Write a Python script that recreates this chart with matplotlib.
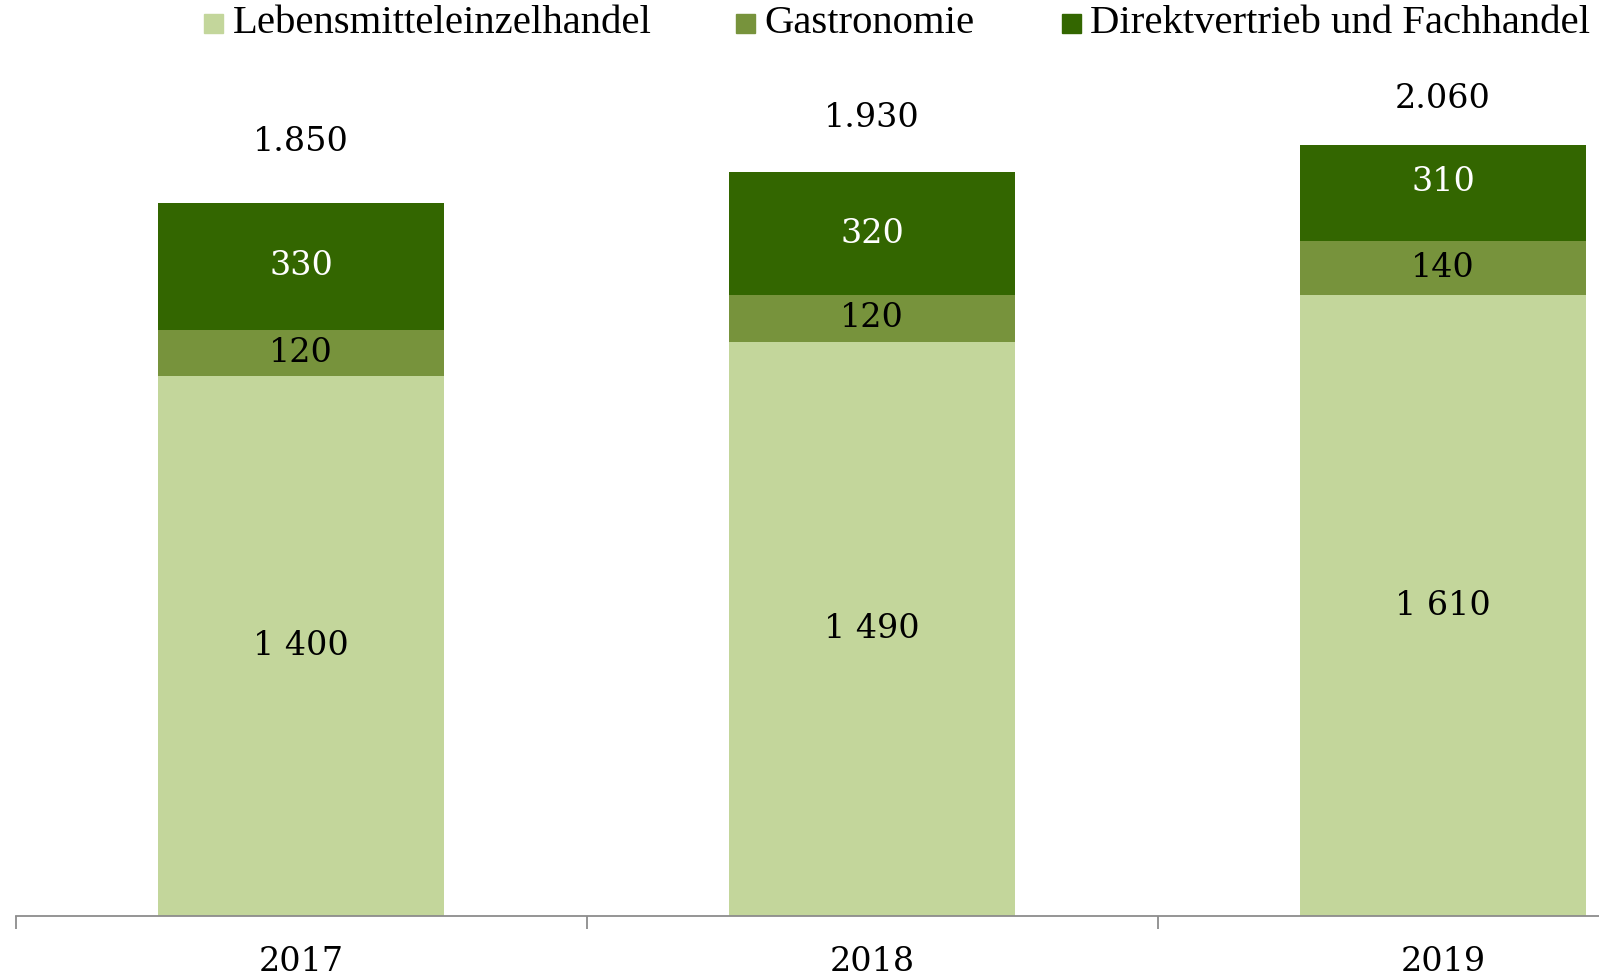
import numpy as np
import matplotlib.pyplot as plt
from matplotlib.patches import Rectangle

years = ['2017', '2018', '2019']
series_names = ['Lebensmitteleinzelhandel', 'Gastronomie', 'Direktvertrieb und Fachhandel']
lebensmittel = [1400, 1490, 1610]
gastro = [120, 120, 140]
direkt = [330, 320, 310]
totals = [1850, 1930, 2060]
total_labels = ['1.850', '1.930', '2.060']

colors = ['#C3D69B', '#77933C', '#336600']
text_colors = ['black', 'black', 'white']

W, H = 1599, 977
fig = plt.figure(figsize=(W / 100, H / 100), dpi=100)
ax = fig.add_axes([15.5 / W, 61 / H, 1 - 15.5 / W, 771 / H])

x = np.arange(len(years))
bottom = np.zeros(len(years))
for vals, col, tcol in zip([lebensmittel, gastro, direkt], colors, text_colors):
    vals = np.array(vals)
    ax.bar(x, vals, width=0.5, bottom=bottom, color=col)
    for xi, b, v in zip(x, bottom, vals):
        lab = f'{v:,}'.replace(',', ' ')
        ax.text(xi, b + v / 2, lab, ha='center', va='center', color=tcol,
                fontsize=24, family='DejaVu Serif', clip_on=False)
    bottom += vals

# total labels (hand placed above the bars, as in the original)
total_offsets = [44, 39, 33]
for xi, t, lab, off in zip(x, totals, total_labels, total_offsets):
    y = min(t, 2000)
    ax.annotate(lab, (xi, y), xytext=(0, off), textcoords='offset points',
                ha='center', va='center', fontsize=24, family='DejaVu Serif',
                annotation_clip=False)

ax.set_xlim(-0.5, 2.273)
ax.set_ylim(0, 2000)
for s in ['top', 'right', 'left']:
    ax.spines[s].set_visible(False)
ax.spines['bottom'].set_color('#8c8c8c')
ax.spines['bottom'].set_linewidth(1.3)
ax.set_yticks([])
ax.set_xticks([-0.5, 0.5, 1.5])
ax.set_xticklabels([])
ax.tick_params(axis='x', length=9, width=1.3, color='#8c8c8c', direction='out')
for xi, yr in zip(x, years):
    ax.annotate(yr, (xi, 0), xytext=(0, -33), textcoords='offset points',
                ha='center', va='center', fontsize=24, family='DejaVu Serif',
                annotation_clip=False)

# legend across the top
leg_x = [204, 736, 1062]
leg_y = H - 23.5
sq = 18.5
for name, col, lx in zip(series_names, colors, leg_x):
    fig.add_artist(Rectangle(((lx) / W, (leg_y - sq / 2) / H), sq / W, sq / H,
                             transform=fig.transFigure, color=col))
    fig.text((lx + sq + 10) / W, leg_y / H, name, ha='left', va='center',
             fontsize=29.3, family='Liberation Serif')

fig.savefig('out.png', dpi=100)
